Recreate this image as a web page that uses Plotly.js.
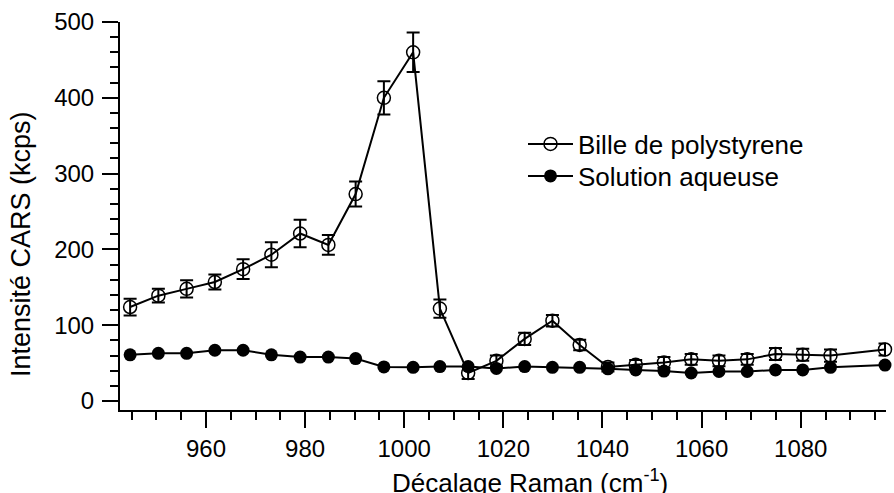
<!DOCTYPE html>
<html>
<head>
<meta charset="utf-8">
<script src="https://cdn.plot.ly/plotly-3.0.1.min.js"></script>
<style>html,body{margin:0;padding:0;background:#fff;}#chart{width:894px;height:493px;}</style>
</head>
<body>
<div id="chart"></div>
<script>
// Raman shift (cm^-1)
const ramanShift = [944.7, 950.4, 956.1, 961.8, 967.5, 973.2, 979.0, 984.7, 990.2, 995.9, 1001.8, 1007.2, 1012.9, 1018.6, 1024.3, 1029.9, 1035.4, 1041.1, 1046.7, 1052.4, 1057.9, 1063.5, 1069.2, 1074.9, 1080.4, 1086.0, 1097.0];
// Polystyrene bead (kcps)
const billeValues = [124, 139, 148, 157, 174, 193, 221, 206, 273, 400, 460, 122, 37, 53, 82, 106, 74, 45, 48, 51, 55, 53, 55, 62, 61, 60, 68];
const billeErrors = [11, 9, 11.5, 10, 13, 16.5, 18, 13, 16.5, 22, 26, 12, 8, 7, 8, 7.5, 7, 6, 6, 7, 7, 7, 7, 8, 8, 8, 8];
// Aqueous solution (kcps)
const solutionValues = [61, 63, 63, 67, 67, 61, 58, 58, 56, 45, 44.5, 45.5, 45.5, 43, 45.5, 44.5, 44.5, 42.5, 41, 39.5, 37, 39, 39, 41, 41, 44.5, 47.5];
const seriesNames = ['Bille de polystyrene', 'Solution aqueuse'];
const xTickVals = [960, 980, 1000, 1020, 1040, 1060, 1080];
const yTickVals = [0, 100, 200, 300, 400, 500];
const xTitle = 'Décalage Raman (cm<sup>-1</sup>)';
const yTitle = 'Intensité CARS (kcps)';

const FONT = 'Liberation Sans, Arial, sans-serif';

const traces = [
  {
    x: ramanShift, y: billeValues, name: seriesNames[0], legend: 'legend',
    type: 'scatter', mode: 'lines+markers', cliponaxis: false,
    line: {color: '#000', width: 2},
    marker: {symbol: 'circle-open', size: 13, color: '#000', line: {color: '#000', width: 1.5}},
    error_y: {type: 'data', array: billeErrors, visible: true, color: '#000', thickness: 2, width: 6.5}
  },
  {
    x: ramanShift, y: solutionValues, name: seriesNames[1], legend: 'legend2',
    type: 'scatter', mode: 'lines+markers', cliponaxis: false,
    line: {color: '#000', width: 2},
    marker: {symbol: 'circle', size: 13, color: '#000'}
  }
];

const axisCommon = {
  showline: true, linecolor: '#000', linewidth: 2, mirror: false,
  showgrid: false, zeroline: false,
  ticks: 'outside', ticklen: 16, tickwidth: 2, tickcolor: '#000',
  tickfont: {family: FONT, size: 24, color: '#000'}
};

const legendCommon = {
  xanchor: 'left', yanchor: 'middle',
  bgcolor: 'rgba(0,0,0,0)', borderwidth: 0,
  font: {family: FONT, size: 26, color: '#000'},
  itemwidth: 45
};

const layout = {
  width: 894, height: 493,
  margin: {l: 120, r: 8, t: 22, b: 83},
  paper_bgcolor: '#fff', plot_bgcolor: '#fff',
  font: {family: FONT, color: '#000'},
  showlegend: true,
  legend: Object.assign({}, legendCommon, {x: (523 - 120) / 766, y: (410 - 144) / 388}),
  legend2: Object.assign({}, legendCommon, {x: (523 - 120) / 766, y: (410 - 176) / 388}),
  xaxis: Object.assign({}, axisCommon, {
    range: [942.66, 1097.2], tickmode: 'array', tickvals: xTickVals,
    minor: {dtick: 5, tick0: 940, ticks: 'outside', ticklen: 8, tickwidth: 2, tickcolor: '#000', showgrid: false}
  }),
  yaxis: Object.assign({}, axisCommon, {
    range: [-11.8, 500], tickmode: 'array', tickvals: yTickVals,
    ticklabelstandoff: 3,
    minor: {dtick: 20, tick0: 0, ticks: 'outside', ticklen: 8, tickwidth: 2, tickcolor: '#000', showgrid: false}
  }),
  annotations: [
    {text: xTitle, xref: 'paper', yref: 'paper', x: 0.535, y: -0.137, xanchor: 'center', yanchor: 'top',
     showarrow: false, font: {family: FONT, size: 26, color: '#000'}},
    {text: yTitle, xref: 'paper', yref: 'paper', x: -0.129, y: 0.428, xanchor: 'center', yanchor: 'middle',
     textangle: -90, showarrow: false, font: {family: FONT, size: 27, color: '#000'}}
  ]
};

Plotly.newPlot('chart', traces, layout, {displayModeBar: false, staticPlot: true});
</script>
</body>
</html>
